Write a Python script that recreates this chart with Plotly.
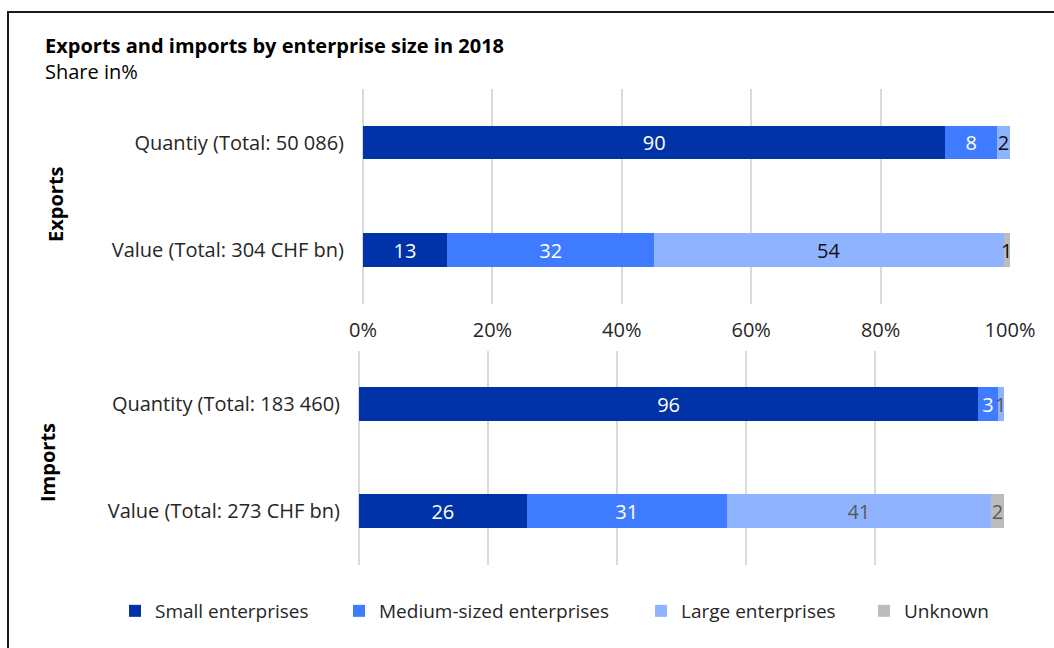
import plotly.graph_objects as go

# Category labels for each panel
export_categories = ["Quantiy (Total: 50 086)", "Value (Total: 304 CHF bn)"]
import_categories = ["Quantity (Total: 183 460)", "Value (Total: 273 CHF bn)"]

# Shares in % by enterprise size
series_names = ["Small enterprises", "Medium-sized enterprises", "Large enterprises", "Unknown"]
export_small = [90, 13]
export_medium = [8, 32]
export_large = [2, 54]
export_unknown = [None, 1]
import_small = [96, 26]
import_medium = [3, 31]
import_large = [1, 41]
import_unknown = [None, 2]

x_ticks = [0, 20, 40, 60, 80, 100]
x_tick_labels = ["0%", "20%", "40%", "60%", "80%", "100%"]

colors = ["#0033a8", "#3f7bff", "#8fb3ff", "#bcbcbc"]
export_text_colors = ["#ffffff", "#ffffff", "#111111", "#111111"]
import_text_colors = ["#ffffff", "#ffffff", "#5a5a5a", "#5a5a5a"]

# one legend box per series, placed side by side along the bottom
legend_ids = ["legend", "legend2", "legend3", "legend4"]
legend_x_px = [115, 339, 641, 864]

FONT = "Open Sans"
W, H = 1054, 648
TEXT = "#262626"


def label(v):
    return "" if v is None else str(v)


fig = go.Figure()

export_series = [export_small, export_medium, export_large, export_unknown]
import_series = [import_small, import_medium, import_large, import_unknown]

for i, name in enumerate(series_names):
    fig.add_trace(go.Bar(
        name=name, orientation="h", x=export_series[i], y=export_categories,
        xaxis="x", yaxis="y", marker=dict(color=colors[i], line=dict(width=0)),
        text=[label(v) for v in export_series[i]], textposition="inside",
        insidetextanchor="middle", textangle=0, constraintext="none",
        textfont=dict(family=FONT, size=20, color=export_text_colors[i]),
        legendgroup=name, legend=legend_ids[i], showlegend=True,
        hoverinfo="x+y+name", cliponaxis=False,
    ))
    fig.add_trace(go.Bar(
        name=name, orientation="h", x=import_series[i], y=import_categories,
        xaxis="x2", yaxis="y2", marker=dict(color=colors[i], line=dict(width=0)),
        text=[label(v) for v in import_series[i]], textposition="inside",
        insidetextanchor="middle", textangle=0, constraintext="none",
        textfont=dict(family=FONT, size=20, color=import_text_colors[i]),
        legendgroup=name, legend=legend_ids[i], showlegend=False,
        hoverinfo="x+y+name", cliponaxis=False,
    ))

grid = "#dadada"
axis_common = dict(range=[0, 100], tickvals=x_ticks, ticktext=x_tick_labels,
                   showgrid=True, gridcolor=grid, gridwidth=2,
                   zeroline=True, zerolinecolor=grid, zerolinewidth=2,
                   showline=False, fixedrange=True)

layout = dict(
    template="none",
    width=W, height=H,
    margin=dict(l=0, r=0, t=0, b=0),
    paper_bgcolor="white", plot_bgcolor="white",
    barmode="stack", bargap=0.69,
    font=dict(family=FONT, size=20, color=TEXT),
    xaxis=dict(domain=[363 / W, 1010 / W], anchor="y",
               showticklabels=True, ticks="", ticklabelstandoff=12,
               tickfont=dict(size=20, color=TEXT), **axis_common),
    yaxis=dict(domain=[1 - 303.75 / H, 1 - 88.75 / H], anchor="x",
               categoryorder="array", categoryarray=export_categories,
               autorange="reversed", showgrid=False, zeroline=False, ticks="",
               ticklabelstandoff=18, tickfont=dict(size=20, color=TEXT),
               fixedrange=True),
    xaxis2=dict(domain=[359 / W, 1004 / W], anchor="y2",
                showticklabels=False, ticks="", **axis_common),
    yaxis2=dict(domain=[1 - 564.5 / H, 1 - 350.5 / H], anchor="x2",
                categoryorder="array", categoryarray=import_categories,
                autorange="reversed", showgrid=False, zeroline=False, ticks="",
                ticklabelstandoff=18, tickfont=dict(size=20, color=TEXT),
                fixedrange=True),
    showlegend=True,
)
for lid, lx in zip(legend_ids, legend_x_px):
    layout[lid] = dict(orientation="h", x=lx / W, y=1 - 611 / H, yanchor="middle",
                       xanchor="left", bgcolor="rgba(0,0,0,0)", borderwidth=0,
                       font=dict(family=FONT, size=19, color=TEXT), itemwidth=30)
fig.update_layout(**layout)

# Titles and group labels
fig.add_annotation(text="<b>Exports and imports by enterprise size in 2018</b>",
                   x=43 / W, y=1 - 46 / H, xref="paper", yref="paper",
                   xanchor="left", yanchor="middle", showarrow=False,
                   font=dict(size=20, color="#000000"))
fig.add_annotation(text="Share in%", x=43 / W, y=1 - 71 / H, xref="paper", yref="paper",
                   xanchor="left", yanchor="middle", showarrow=False,
                   font=dict(size=20, color="#000000"))
fig.add_annotation(text="<b>Exports</b>", x=55 / W, y=1 - 204 / H, xref="paper", yref="paper",
                   xanchor="center", yanchor="middle", showarrow=False, textangle=-90,
                   font=dict(size=20, color="#000000"))
fig.add_annotation(text="<b>Imports</b>", x=48 / W, y=1 - 463 / H, xref="paper", yref="paper",
                   xanchor="center", yanchor="middle", showarrow=False, textangle=-90,
                   font=dict(size=20, color="#000000"))

# Frame around the chart
fig.add_shape(type="rect", xref="paper", yref="paper",
              x0=8 / W, x1=1.05, y0=-0.05, y1=1 - 12 / H,
              line=dict(color="#1a1a1a", width=2), fillcolor="rgba(0,0,0,0)", layer="above")

fig.write_html("out.html")
